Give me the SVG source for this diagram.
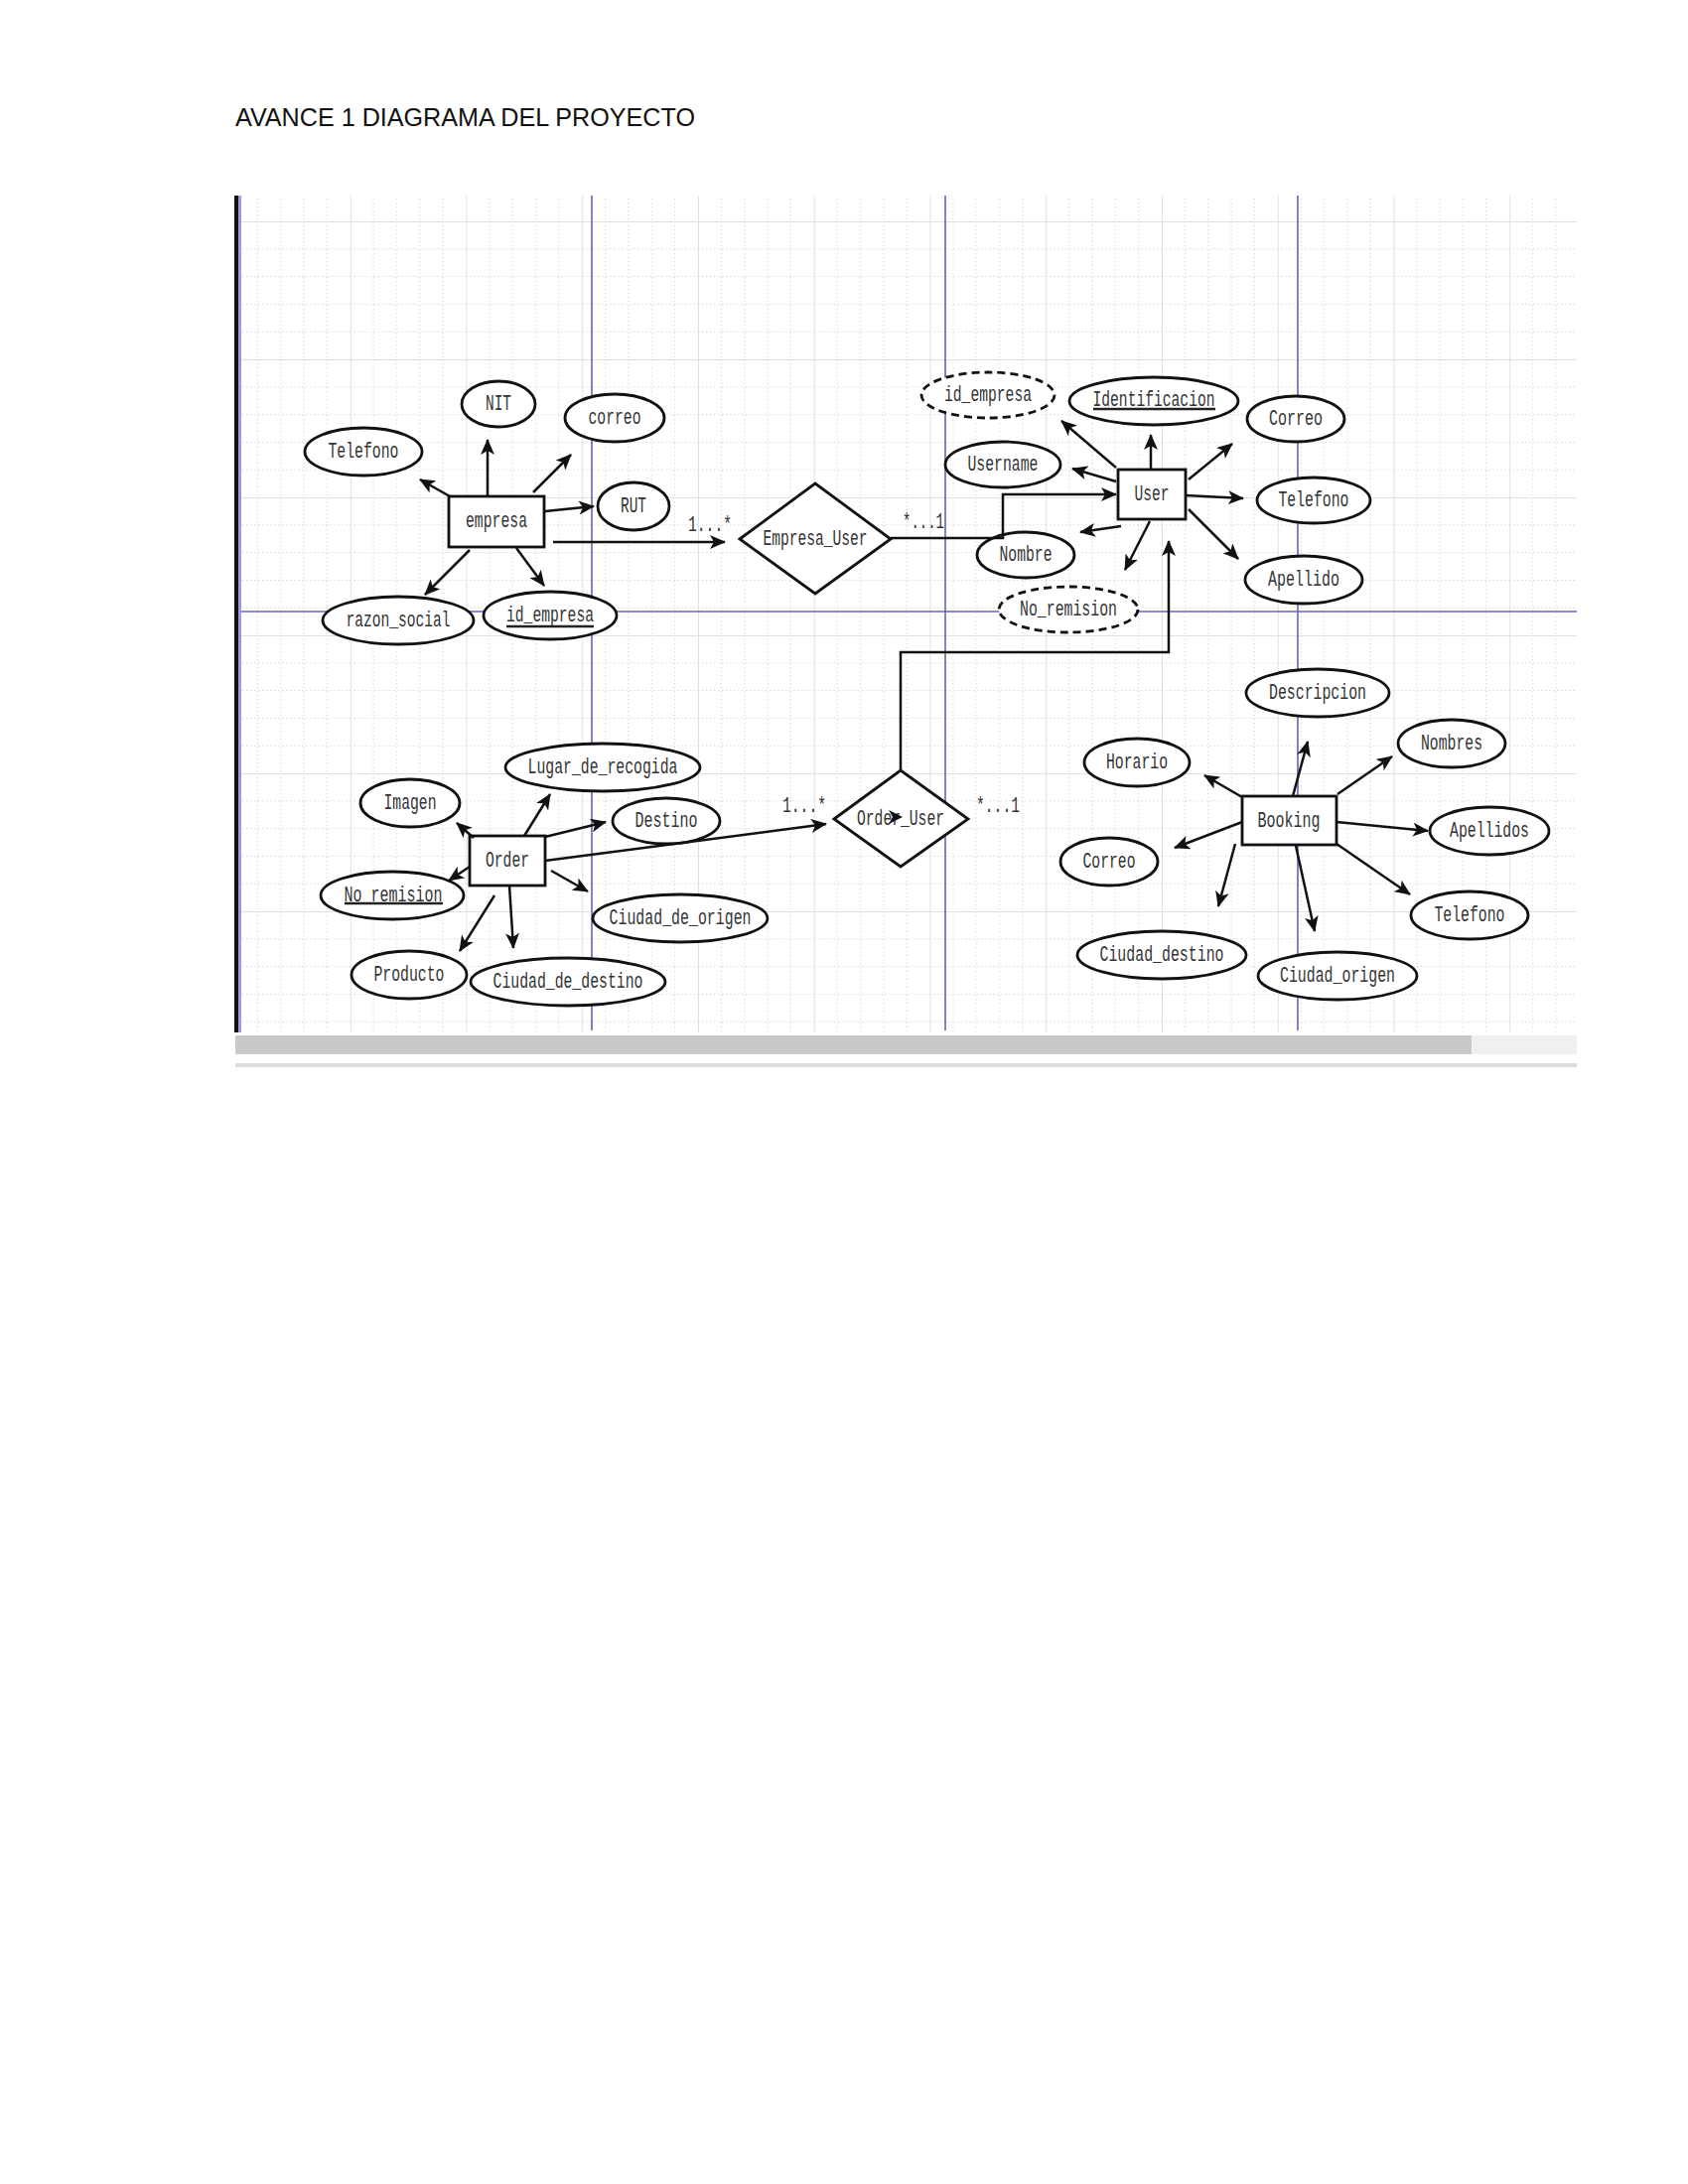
<svg xmlns="http://www.w3.org/2000/svg" width="1700" height="2200" viewBox="0 0 1700 2200">
<defs>
<style>
.e{fill:#fff;stroke:#111;stroke-width:2.8}
.ed{fill:#fff;stroke:#111;stroke-width:2.8;stroke-dasharray:8 5}
.t{font-family:"Liberation Mono","Courier New",monospace;font-size:22px;fill:#333;text-anchor:middle}
.u{stroke:#222;stroke-width:2.4}
.a{stroke:#111;stroke-width:2.5;fill:none;marker-end:url(#ah)}
.blue{stroke:#6464b4;stroke-width:1.6}
.dot{stroke:#cfcfd6;stroke-width:1;stroke-dasharray:1.2 2.8;fill:none}
.sol{stroke:#e0e0e4;stroke-width:1;fill:none}
</style>
<marker id="ah" markerUnits="userSpaceOnUse" markerWidth="17" markerHeight="14" refX="15" refY="7" orient="auto">
<path d="M0,0 L16,7 L0,14 L4,7 z" fill="#111"/>
</marker>
<pattern id="grid" patternUnits="userSpaceOnUse" x="703" y="223" width="116.75" height="139">
<path class="dot" d="M23.35,0 V139 M46.7,0 V139 M70.05,0 V139 M93.4,0 V139"/>
<path class="dot" d="M0,27.8 H116.75 M0,55.6 H116.75 M0,83.4 H116.75 M0,111.2 H116.75"/>
<path class="sol" d="M0.5,0 V139 M0,0.5 H116.75"/>
</pattern>
</defs>
<rect width="1700" height="2200" fill="#fff"/>
<text x="237" y="127" font-family="Liberation Sans, Arial, sans-serif" font-size="25" fill="#111" textLength="463" lengthAdjust="spacingAndGlyphs">AVANCE 1 DIAGRAMA DEL PROYECTO</text>

<g id="canvas">
<rect x="240" y="197" width="1348" height="843" fill="#fff"/>
<rect x="240" y="197" width="1348" height="843" fill="url(#grid)"/>
<line class="blue" x1="596" y1="197" x2="596" y2="1038"/>
<line class="blue" x1="952" y1="197" x2="952" y2="1038"/>
<line class="blue" x1="1307" y1="197" x2="1307" y2="1038"/>
<line class="blue" x1="240" y1="616" x2="1588" y2="616"/>
<rect x="236" y="197" width="4" height="843" fill="#111"/>
<rect x="240" y="197" width="3" height="843" fill="#9c9cd8"/>
<rect x="237" y="1043" width="1245" height="19" fill="#c9c9c9"/>
<rect x="1482" y="1043" width="106" height="19" fill="#f0f0f0"/>
<rect x="237" y="1071" width="1351" height="4" fill="#dcdcdc"/>
</g>

<g id="empresa">
<rect class="e" x="452" y="500" width="96" height="51"/>
<text class="t" x="500" y="531" textLength="62" lengthAdjust="spacingAndGlyphs">empresa</text>
</g>
<g id="empresa-nit"><ellipse class="e" cx="502" cy="407" rx="37" ry="23"/><text class="t" x="502" y="413" textLength="26" lengthAdjust="spacingAndGlyphs">NIT</text></g>
<g id="empresa-correo"><ellipse class="e" cx="619" cy="421" rx="50" ry="24"/><text class="t" x="619" y="427" textLength="53" lengthAdjust="spacingAndGlyphs">correo</text></g>
<g id="empresa-telefono"><ellipse class="e" cx="366" cy="455" rx="59" ry="24"/><text class="t" x="366" y="461" textLength="71" lengthAdjust="spacingAndGlyphs">Telefono</text></g>
<g id="empresa-rut"><ellipse class="e" cx="638" cy="510" rx="36" ry="24"/><text class="t" x="638" y="516" textLength="26" lengthAdjust="spacingAndGlyphs">RUT</text></g>
<g id="empresa-razon"><ellipse class="e" cx="401" cy="625" rx="76" ry="24"/><text class="t" x="401" y="631" textLength="105" lengthAdjust="spacingAndGlyphs">razon_social</text></g>
<g id="empresa-id"><ellipse class="e" cx="554" cy="620" rx="67" ry="24"/><text class="t" x="554" y="626" textLength="88" lengthAdjust="spacingAndGlyphs">id_empresa</text><line class="u" x1="510" y1="631" x2="598" y2="631"/></g>

<g id="empresa_user">
<polygon class="e" points="745,543 821,487 897,543 821,598"/>
<text class="t" x="821" y="549" textLength="105" lengthAdjust="spacingAndGlyphs">Empresa_User</text>
</g>

<g id="user">
<rect class="e" x="1126" y="473" width="68" height="50"/>
<text class="t" x="1160" y="504" textLength="35" lengthAdjust="spacingAndGlyphs">User</text>
</g>
<g id="user-idempresa"><ellipse class="ed" cx="995" cy="398" rx="67" ry="23"/><text class="t" x="995" y="404" textLength="88" lengthAdjust="spacingAndGlyphs">id_empresa</text></g>
<g id="user-identificacion"><ellipse class="e" cx="1162" cy="404" rx="85" ry="24"/><text class="t" x="1162" y="409" textLength="123" lengthAdjust="spacingAndGlyphs">Identificacion</text><line class="u" x1="1101" y1="412" x2="1224" y2="412"/></g>
<g id="user-correo"><ellipse class="e" cx="1305" cy="422" rx="49" ry="23"/><text class="t" x="1305" y="428" textLength="54" lengthAdjust="spacingAndGlyphs">Correo</text></g>
<g id="user-username"><ellipse class="e" cx="1010" cy="468" rx="58" ry="23"/><text class="t" x="1010" y="474" textLength="71" lengthAdjust="spacingAndGlyphs">Username</text></g>
<g id="user-telefono"><ellipse class="e" cx="1323" cy="504" rx="57" ry="23"/><text class="t" x="1323" y="510" textLength="71" lengthAdjust="spacingAndGlyphs">Telefono</text></g>
<g id="user-nombre"><ellipse class="e" cx="1033" cy="559" rx="49" ry="23"/><text class="t" x="1033" y="565" textLength="53" lengthAdjust="spacingAndGlyphs">Nombre</text></g>
<g id="user-apellido"><ellipse class="e" cx="1313" cy="584" rx="59" ry="24"/><text class="t" x="1313" y="590" textLength="72" lengthAdjust="spacingAndGlyphs">Apellido</text></g>
<g id="user-noremision"><ellipse class="ed" cx="1076" cy="614" rx="70" ry="23"/><text class="t" x="1076" y="620" textLength="98" lengthAdjust="spacingAndGlyphs">No_remision</text></g>

<g id="order">
<rect class="e" x="473" y="842" width="76" height="50"/>
<text class="t" x="511" y="873" textLength="44" lengthAdjust="spacingAndGlyphs">Order</text>
</g>
<g id="order-lugar"><ellipse class="e" cx="607" cy="773" rx="98" ry="24"/><text class="t" x="607" y="779" textLength="151" lengthAdjust="spacingAndGlyphs">Lugar_de_recogida</text></g>
<g id="order-imagen"><ellipse class="e" cx="413" cy="809" rx="50" ry="24"/><text class="t" x="413" y="815" textLength="53" lengthAdjust="spacingAndGlyphs">Imagen</text></g>
<g id="order-destino"><ellipse class="e" cx="671" cy="827" rx="54" ry="23"/><text class="t" x="671" y="833" textLength="63" lengthAdjust="spacingAndGlyphs">Destino</text></g>
<g id="order-noremision"><ellipse class="e" cx="395" cy="902" rx="72" ry="24"/><text class="t" x="396" y="908" textLength="99" lengthAdjust="spacingAndGlyphs">No_remision</text><line class="u" x1="347" y1="910" x2="446" y2="910"/></g>
<g id="order-ciudadorigen"><ellipse class="e" cx="685" cy="925" rx="88" ry="24"/><text class="t" x="685" y="931" textLength="143" lengthAdjust="spacingAndGlyphs">Ciudad_de_origen</text></g>
<g id="order-producto"><ellipse class="e" cx="412" cy="982" rx="58" ry="24"/><text class="t" x="412" y="988" textLength="71" lengthAdjust="spacingAndGlyphs">Producto</text></g>
<g id="order-ciudaddestino"><ellipse class="e" cx="572" cy="989" rx="98" ry="24"/><text class="t" x="572" y="995" textLength="151" lengthAdjust="spacingAndGlyphs">Ciudad_de_destino</text></g>

<g id="order_user">
<polygon class="e" points="840,825 907,776 975,825 907,873"/>
<text class="t" x="907" y="831" textLength="88" lengthAdjust="spacingAndGlyphs">Order_User</text>
<polygon points="895,816 909,823 895,830 899,823" fill="#111"/>
</g>

<g id="booking">
<rect class="e" x="1251" y="802" width="95" height="49"/>
<text class="t" x="1298" y="833" textLength="63" lengthAdjust="spacingAndGlyphs">Booking</text>
</g>
<g id="booking-descripcion"><ellipse class="e" cx="1327" cy="698" rx="72" ry="24"/><text class="t" x="1327" y="704" textLength="98" lengthAdjust="spacingAndGlyphs">Descripcion</text></g>
<g id="booking-nombres"><ellipse class="e" cx="1462" cy="749" rx="54" ry="24"/><text class="t" x="1462" y="755" textLength="62" lengthAdjust="spacingAndGlyphs">Nombres</text></g>
<g id="booking-horario"><ellipse class="e" cx="1145" cy="768" rx="53" ry="24"/><text class="t" x="1145" y="774" textLength="62" lengthAdjust="spacingAndGlyphs">Horario</text></g>
<g id="booking-apellidos"><ellipse class="e" cx="1500" cy="837" rx="60" ry="24"/><text class="t" x="1500" y="843" textLength="80" lengthAdjust="spacingAndGlyphs">Apellidos</text></g>
<g id="booking-correo"><ellipse class="e" cx="1117" cy="868" rx="49" ry="24"/><text class="t" x="1117" y="874" textLength="53" lengthAdjust="spacingAndGlyphs">Correo</text></g>
<g id="booking-telefono"><ellipse class="e" cx="1480" cy="922" rx="59" ry="24"/><text class="t" x="1480" y="928" textLength="71" lengthAdjust="spacingAndGlyphs">Telefono</text></g>
<g id="booking-ciudaddestino"><ellipse class="e" cx="1170" cy="962" rx="85" ry="24"/><text class="t" x="1170" y="968" textLength="125" lengthAdjust="spacingAndGlyphs">Ciudad_destino</text></g>
<g id="booking-ciudadorigen"><ellipse class="e" cx="1347" cy="983" rx="80" ry="24"/><text class="t" x="1347" y="989" textLength="116" lengthAdjust="spacingAndGlyphs">Ciudad_origen</text></g>

<g id="connectors">
<line class="a" x1="491" y1="499" x2="491" y2="443"/>
<line class="a" x1="453" y1="500" x2="423" y2="483"/>
<line class="a" x1="537" y1="496" x2="575" y2="458"/>
<line class="a" x1="549" y1="515" x2="598" y2="510"/>
<line class="a" x1="473" y1="554" x2="428" y2="599"/>
<line class="a" x1="520" y1="552" x2="548" y2="590"/>
<line class="a" x1="557" y1="546" x2="730" y2="546"/>
<line class="a" x1="1124" y1="471" x2="1069" y2="424"/>
<line class="a" x1="1159" y1="472" x2="1159" y2="438"/>
<line class="a" x1="1197" y1="483" x2="1241" y2="447"/>
<line class="a" x1="1124" y1="485" x2="1080" y2="472"/>
<line class="a" x1="1194" y1="499" x2="1252" y2="502"/>
<line class="a" x1="1129" y1="530" x2="1088" y2="536"/>
<line class="a" x1="1158" y1="525" x2="1133" y2="574"/>
<line class="a" x1="1197" y1="513" x2="1247" y2="563"/>
<path class="a" d="M897,542 H1010 V498 H1124"/>
<line class="a" x1="528" y1="842" x2="554" y2="800"/>
<line class="a" x1="477" y1="844" x2="460" y2="829"/>
<line class="a" x1="549" y1="843" x2="610" y2="828"/>
<line class="a" x1="473" y1="873" x2="452" y2="887"/>
<line class="a" x1="555" y1="877" x2="592" y2="898"/>
<line class="a" x1="498" y1="902" x2="463" y2="958"/>
<line class="a" x1="513" y1="892" x2="517" y2="955"/>
<line class="a" x1="549" y1="867" x2="832" y2="830"/>
<path class="a" d="M907,775 V657 H1177 V545"/>
<line class="a" x1="1302" y1="802" x2="1317" y2="747"/>
<line class="a" x1="1347" y1="800" x2="1402" y2="762"/>
<line class="a" x1="1251" y1="803" x2="1213" y2="781"/>
<line class="a" x1="1346" y1="828" x2="1438" y2="837"/>
<line class="a" x1="1251" y1="828" x2="1183" y2="854"/>
<line class="a" x1="1346" y1="850" x2="1420" y2="901"/>
<line class="a" x1="1244" y1="850" x2="1227" y2="913"/>
<line class="a" x1="1305" y1="852" x2="1324" y2="938"/>
<text class="t" x="715" y="535" textLength="44" lengthAdjust="spacingAndGlyphs">1...*</text>
<text class="t" x="930" y="532" textLength="42" lengthAdjust="spacingAndGlyphs">*...1</text>
<text class="t" x="810" y="818" textLength="44" lengthAdjust="spacingAndGlyphs">1...*</text>
<text class="t" x="1005" y="818" textLength="44" lengthAdjust="spacingAndGlyphs">*...1</text>
</g>
</svg>
